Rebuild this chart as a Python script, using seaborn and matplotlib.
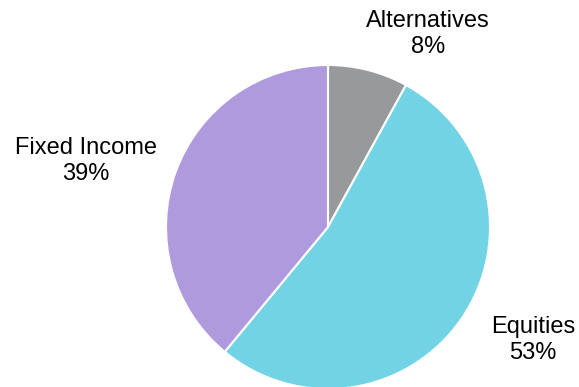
import matplotlib
matplotlib.use("Agg")
import matplotlib.pyplot as plt
import seaborn as sns

categories = ["Alternatives", "Equities", "Fixed Income"]
shares = [8, 53, 39]
colors = ["#98999b", "#72d3e5", "#b09ade"]

sns.set_theme(style="white")
plt.rcParams["font.family"] = ["Liberation Sans", "DejaVu Sans"]

W, H = 579, 387
fig = plt.figure(figsize=(W / 100, H / 100), dpi=100)
ax = fig.add_axes([0, 0, 1, 1])

center = (328, 160)
radius = 162
ax.pie(
    shares,
    colors=colors,
    startangle=90,
    counterclock=False,
    center=center,
    radius=radius,
    wedgeprops=dict(edgecolor="white", linewidth=1.5),
    frame=True,
)
ax.set_xlim(0, W)
ax.set_ylim(0, H)
ax.set_aspect("equal")
ax.axis("off")

# label anchors (pixel layout), one per category
label_pos = [(428, 353), (533, 47), (86, 226)]
for name, val, (x, y) in zip(categories, shares, label_pos):
    ax.text(x, y, f"{name}\n{val}%", ha="center", va="center",
            fontsize=17, color="#000000", linespacing=1.2)

fig.savefig("out.png", dpi=100)
